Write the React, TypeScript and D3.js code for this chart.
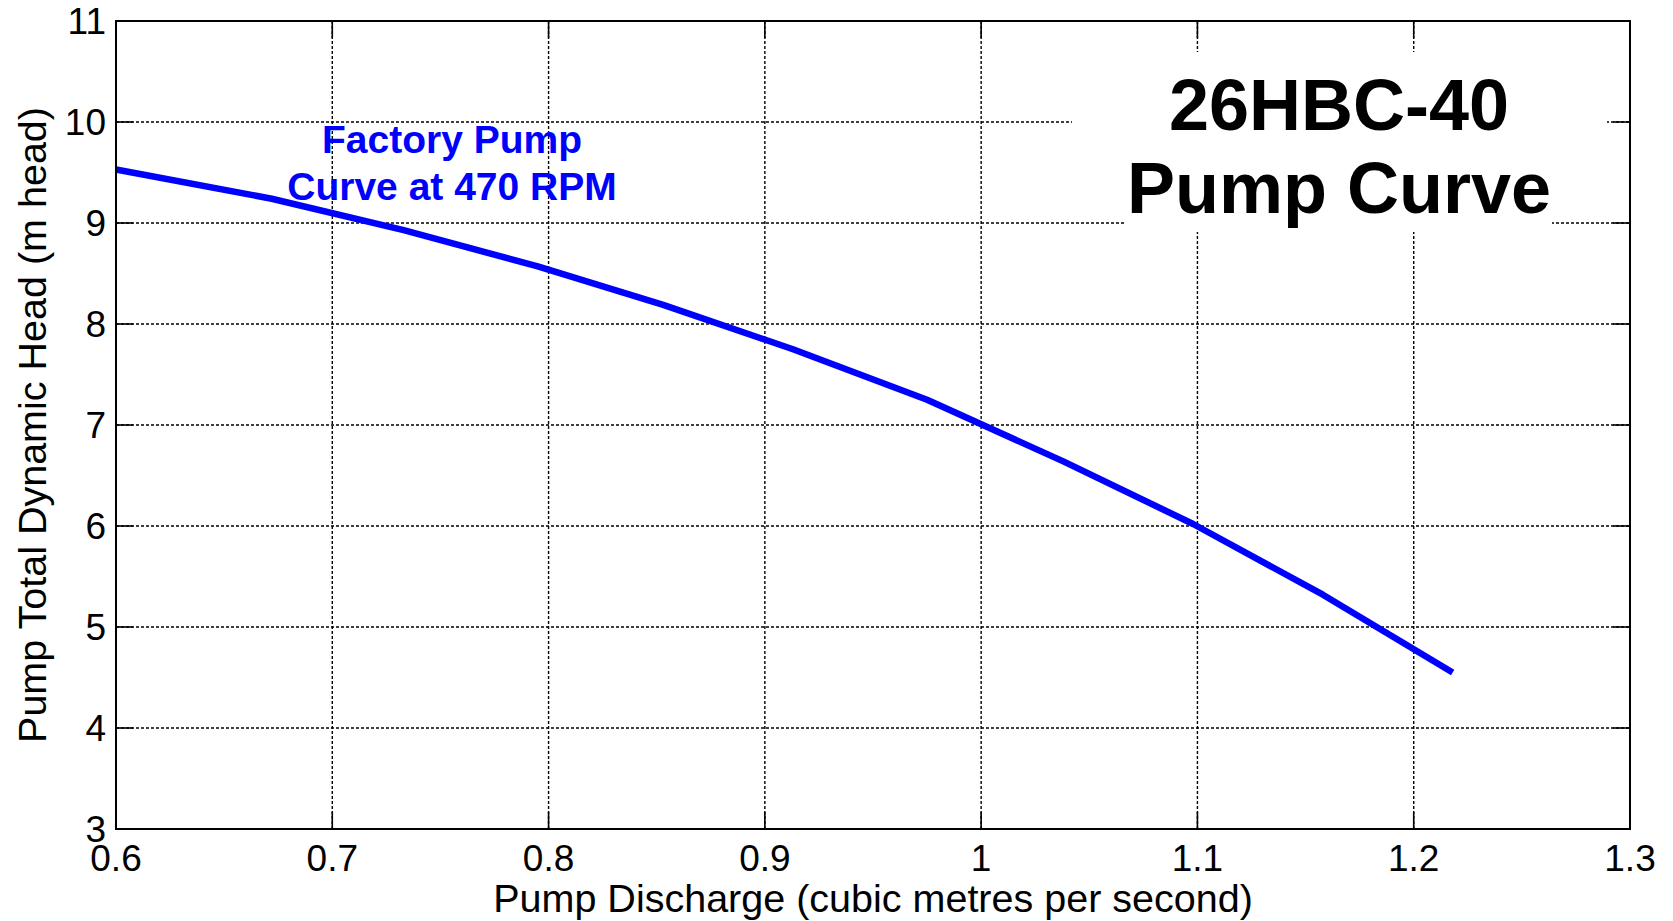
import React from "react";
import * as d3 from "d3";

// Factory pump curve at 470 RPM: discharge (m^3/s) vs total dynamic head (m)
const discharge = [0.6, 0.672, 0.733, 0.795, 0.853, 0.913, 0.975, 1.038, 1.098, 1.158, 1.218];
const head = [9.53, 9.24, 8.93, 8.57, 8.19, 7.75, 7.25, 6.64, 6.02, 5.32, 4.55];

const xTicks = [0.6, 0.7, 0.8, 0.9, 1.0, 1.1, 1.2, 1.3];
const yTicks = [3, 4, 5, 6, 7, 8, 9, 10, 11];

const titleLines = ["26HBC-40", "Pump Curve"];
const curveLabelLines = ["Factory Pump", "Curve at 470 RPM"];
const xLabel = "Pump Discharge (cubic metres per second)";
const yLabel = "Pump Total Dynamic Head (m head)";

const W = 1673;
const H = 921;
const margin = { left: 116, right: 43, top: 21, bottom: 92 };
const FONT = "'Liberation Sans', Arial, Helvetica, sans-serif";

export default function App() {
  const x0 = margin.left;
  const x1 = W - margin.right;
  const y0 = margin.top;
  const y1 = H - margin.bottom;

  const x = d3.scaleLinear().domain([0.6, 1.3]).range([x0, x1]);
  const y = d3.scaleLinear().domain([3, 11]).range([y1, y0]);

  const pts: [number, number][] = discharge.map((d, i) => [d, head[i]]);
  const line = d3
    .line<[number, number]>()
    .x((d) => x(d[0]))
    .y((d) => y(d[1]));

  const tickLen = 17;
  const fmt = (v: number) => d3.format("~g")(v);
  const cx = (x0 + x1) / 2;
  const cy = (y0 + y1) / 2;

  const titleX = 1339;

  return (
    <svg
      width={W}
      height={H}
      viewBox={`0 0 ${W} ${H}`}
      style={{ position: "absolute", left: 0, top: 0, background: "#fff" }}
      fontFamily={FONT}
    >
      <rect x={0} y={0} width={W} height={H} fill="#fff" />

      {/* dotted grid */}
      <g stroke="#000" strokeWidth={1.4} strokeDasharray="3,2">
        {xTicks.slice(1, -1).map((t) => (
          <line key={"gx" + t} x1={x(t)} x2={x(t)} y1={y0} y2={y1} />
        ))}
        {yTicks.slice(1, -1).map((t) => (
          <line key={"gy" + t} x1={x0} x2={x1} y1={y(t)} y2={y(t)} />
        ))}
      </g>

      {/* white backing behind the chart title */}
      <rect x={1072} y={52} width={535} height={100} fill="#fff" />
      <rect x={1125} y={150} width={427} height={82} fill="#fff" />

      {/* pump curve */}
      <path
        d={line(pts) ?? ""}
        fill="none"
        stroke="#0000ff"
        strokeWidth={6.5}
        strokeLinejoin="round"
      />

      {/* inward ticks on all four sides */}
      <g stroke="#000" strokeWidth={1.6}>
        {xTicks.map((t) => (
          <g key={"tx" + t}>
            <line x1={x(t)} x2={x(t)} y1={y1} y2={y1 - tickLen} />
            <line x1={x(t)} x2={x(t)} y1={y0} y2={y0 + tickLen} />
          </g>
        ))}
        {yTicks.map((t) => (
          <g key={"ty" + t}>
            <line x1={x0} x2={x0 + tickLen} y1={y(t)} y2={y(t)} />
            <line x1={x1} x2={x1 - tickLen} y1={y(t)} y2={y(t)} />
          </g>
        ))}
      </g>

      {/* axes box */}
      <rect
        x={x0}
        y={y0}
        width={x1 - x0}
        height={y1 - y0}
        fill="none"
        stroke="#000"
        strokeWidth={2}
      />

      {/* tick labels */}
      <g fontSize={37} fill="#000">
        {xTicks.map((t) => (
          <text key={"lx" + t} x={x(t)} y={871} textAnchor="middle">
            {fmt(t)}
          </text>
        ))}
        {yTicks.map((t) => (
          <text key={"ly" + t} x={106} y={y(t) + 13} textAnchor="end">
            {fmt(t)}
          </text>
        ))}
      </g>

      {/* axis labels */}
      <text x={cx} y={912} textAnchor="middle" fontSize={39.5} fill="#000">
        {xLabel}
      </text>
      <text
        transform={`translate(46,${cy}) rotate(-90)`}
        textAnchor="middle"
        fontSize={39.5}
        fill="#000"
      >
        {yLabel}
      </text>

      {/* curve annotation */}
      <g fontSize={39} fontWeight="bold" fill="#0000ff" textAnchor="middle">
        {curveLabelLines.map((s, i) => (
          <text key={s} x={452} y={153 + i * 47}>
            {s}
          </text>
        ))}
      </g>

      {/* chart title */}
      <g fontSize={72} fontWeight="bold" fill="#000" textAnchor="middle">
        {titleLines.map((s, i) => (
          <text key={s} x={titleX} y={130 + i * 83}>
            {s}
          </text>
        ))}
      </g>
    </svg>
  );
}
